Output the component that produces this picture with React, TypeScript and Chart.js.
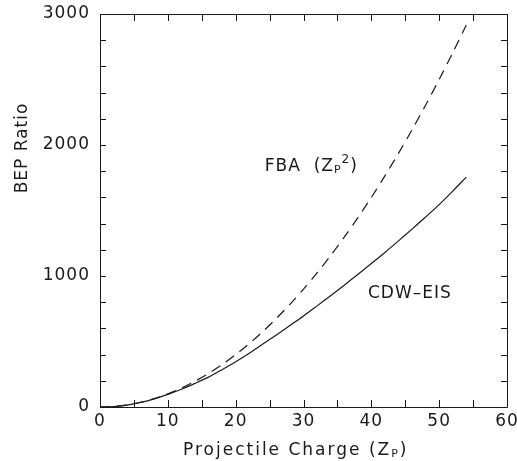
import React, { useEffect, useRef } from "react";
import { Chart, registerables } from "chart.js";

Chart.register(...registerables);

// Projectile charge Z_P
const zp = [0, 2, 4, 6, 8, 10, 12, 14, 16, 18, 20, 22, 24, 26, 28, 30, 32, 34, 36, 38, 40, 42, 44, 46, 48, 50, 52, 54];
// CDW-EIS (solid)
const cdwEis = [0, 3, 15, 35, 62, 96, 135, 180, 228, 285, 345, 410, 480, 550, 622, 695, 772, 850, 930, 1012, 1095, 1180, 1268, 1358, 1450, 1545, 1648, 1755];
// FBA (Z_P^2) (dashed)
const fba = [0, 4, 16, 36, 64, 100, 144, 196, 256, 324, 400, 484, 576, 676, 784, 900, 1024, 1156, 1296, 1444, 1600, 1764, 1936, 2116, 2304, 2500, 2704, 2916];

const xTickLabels = [0, 10, 20, 30, 40, 50, 60];
const yTickLabels = [0, 1000, 2000, 3000];

const FONT = '"DejaVu Sans", sans-serif';
const INK = "#1a1a1a";

type Part = { t: string; size: number; dy: number };

function drawRich(ctx: CanvasRenderingContext2D, parts: Part[], x: number, y: number, spacing: number) {
  let cx = x;
  (ctx as any).letterSpacing = spacing + "px";
  for (const p of parts) {
    ctx.font = `${p.size}px ${FONT}`;
    ctx.fillText(p.t, cx, y + p.dy);
    cx += ctx.measureText(p.t).width;
  }
}

const framePlugin = {
  id: "framePlugin",
  beforeDraw(chart: any) {
    (chart.ctx as any).letterSpacing = "1px";
  },
  afterDraw(chart: any) {
    const { ctx, chartArea: a, scales } = chart;
    const x = scales.x;
    const y = scales.y;
    ctx.save();
    ctx.strokeStyle = INK;
    ctx.lineWidth = 1;
    // frame
    ctx.beginPath();
    ctx.rect(Math.round(a.left) + 0.5, Math.round(a.top) + 0.5, Math.round(a.right - a.left), Math.round(a.bottom - a.top));
    ctx.stroke();
    // inward ticks
    ctx.beginPath();
    x.ticks.forEach((t: any) => {
      const px = Math.round(x.getPixelForValue(t.value)) + 0.5;
      ctx.moveTo(px, a.bottom);
      ctx.lineTo(px, a.bottom - 7);
      ctx.moveTo(px, a.top);
      ctx.lineTo(px, a.top + 7);
    });
    y.ticks.forEach((t: any) => {
      const py = Math.round(y.getPixelForValue(t.value)) + 0.5;
      ctx.moveTo(a.left, py);
      ctx.lineTo(a.left + 6, py);
      ctx.moveTo(a.right, py);
      ctx.lineTo(a.right - 6, py);
    });
    ctx.stroke();

    ctx.fillStyle = INK;
    ctx.textAlign = "left";
    ctx.textBaseline = "alphabetic";
    // x title
    drawRich(
      ctx,
      [
        { t: "Projectile Charge (Z", size: 17, dy: 0 },
        { t: "P", size: 11, dy: 2 },
        { t: ")", size: 17, dy: 0 },
      ],
      183,
      455,
      2
    );
    // y title
    ctx.save();
    ctx.translate(27, 148);
    ctx.rotate(-Math.PI / 2);
    ctx.textAlign = "center";
    (ctx as any).letterSpacing = "1px";
    ctx.font = `17px ${FONT}`;
    ctx.fillText("BEP Ratio", 0, 0);
    ctx.restore();

    // curve labels
    const fx = x.getPixelForValue(24.3);
    const fy = y.getPixelForValue(1800);
    drawRich(
      ctx,
      [
        { t: "FBA  (Z", size: 17, dy: 0 },
        { t: "P", size: 11, dy: 2 },
        { t: "2", size: 12, dy: -8 },
        { t: ")", size: 17, dy: 0 },
      ],
      fx,
      fy,
      1
    );
    const cx = x.getPixelForValue(39.5);
    const cy = y.getPixelForValue(835);
    drawRich(ctx, [{ t: "CDW\u2013EIS", size: 17, dy: 0 }], cx, cy, 1);
    ctx.restore();
  },
};

export default function App() {
  const ref = useRef<HTMLCanvasElement | null>(null);
  useEffect(() => {
    document.body.style.margin = "0";
    const canvas = ref.current!;
    const chart = new Chart(canvas, {
      type: "line",
      data: {
        datasets: [
          {
            label: "CDW-EIS",
            data: zp.map((v, i) => ({ x: v, y: cdwEis[i] })),
            borderColor: INK,
            borderWidth: 1.2,
            pointRadius: 0,
            fill: false,
            tension: 0.3,
          },
          {
            label: "FBA (Zp^2)",
            data: zp.map((v, i) => ({ x: v, y: fba[i] })),
            borderColor: INK,
            borderWidth: 1.2,
            borderDash: [10, 7],
            pointRadius: 0,
            fill: false,
            tension: 0.3,
          },
        ],
      },
      options: {
        animation: false,
        responsive: false,
        maintainAspectRatio: false,
        devicePixelRatio: 1,
        layout: { padding: { left: 0, right: 10, top: 14, bottom: 0 } },
        plugins: { legend: { display: false }, tooltip: { enabled: false }, title: { display: false } },
        scales: {
          x: {
            type: "linear",
            min: 0,
            max: 60,
            grid: { display: false, drawTicks: false },
            border: { display: false },
            ticks: {
              stepSize: 5,
              padding: 4,
              color: INK,
              font: { family: FONT, size: 17 },
              maxRotation: 0,
              autoSkip: false,
              callback: (v: any) => (xTickLabels.includes(Number(v)) ? String(v) : ""),
            },
            afterFit: (s: any) => {
              s.height = 54;
              s.paddingLeft = 0;
              s.paddingRight = 0;
            },
          },
          y: {
            type: "linear",
            min: 0,
            max: 3000,
            grid: { display: false, drawTicks: false },
            border: { display: false },
            ticks: {
              stepSize: 200,
              padding: 10,
              color: INK,
              font: { family: FONT, size: 17 },
              autoSkip: false,
              callback: (v: any) => (yTickLabels.includes(Number(v)) ? String(v) : ""),
            },
            afterFit: (s: any) => {
              s.width = 100;
              s.paddingTop = 0;
              s.paddingBottom = 0;
            },
          },
        },
      },
      plugins: [framePlugin],
    });
    return () => chart.destroy();
  }, []);
  return (
    <div style={{ position: "absolute", left: 0, top: 0, width: 517, height: 461, background: "#fff" }}>
      <canvas ref={ref} width={517} height={461} style={{ width: 517, height: 461 }} />
    </div>
  );
}
